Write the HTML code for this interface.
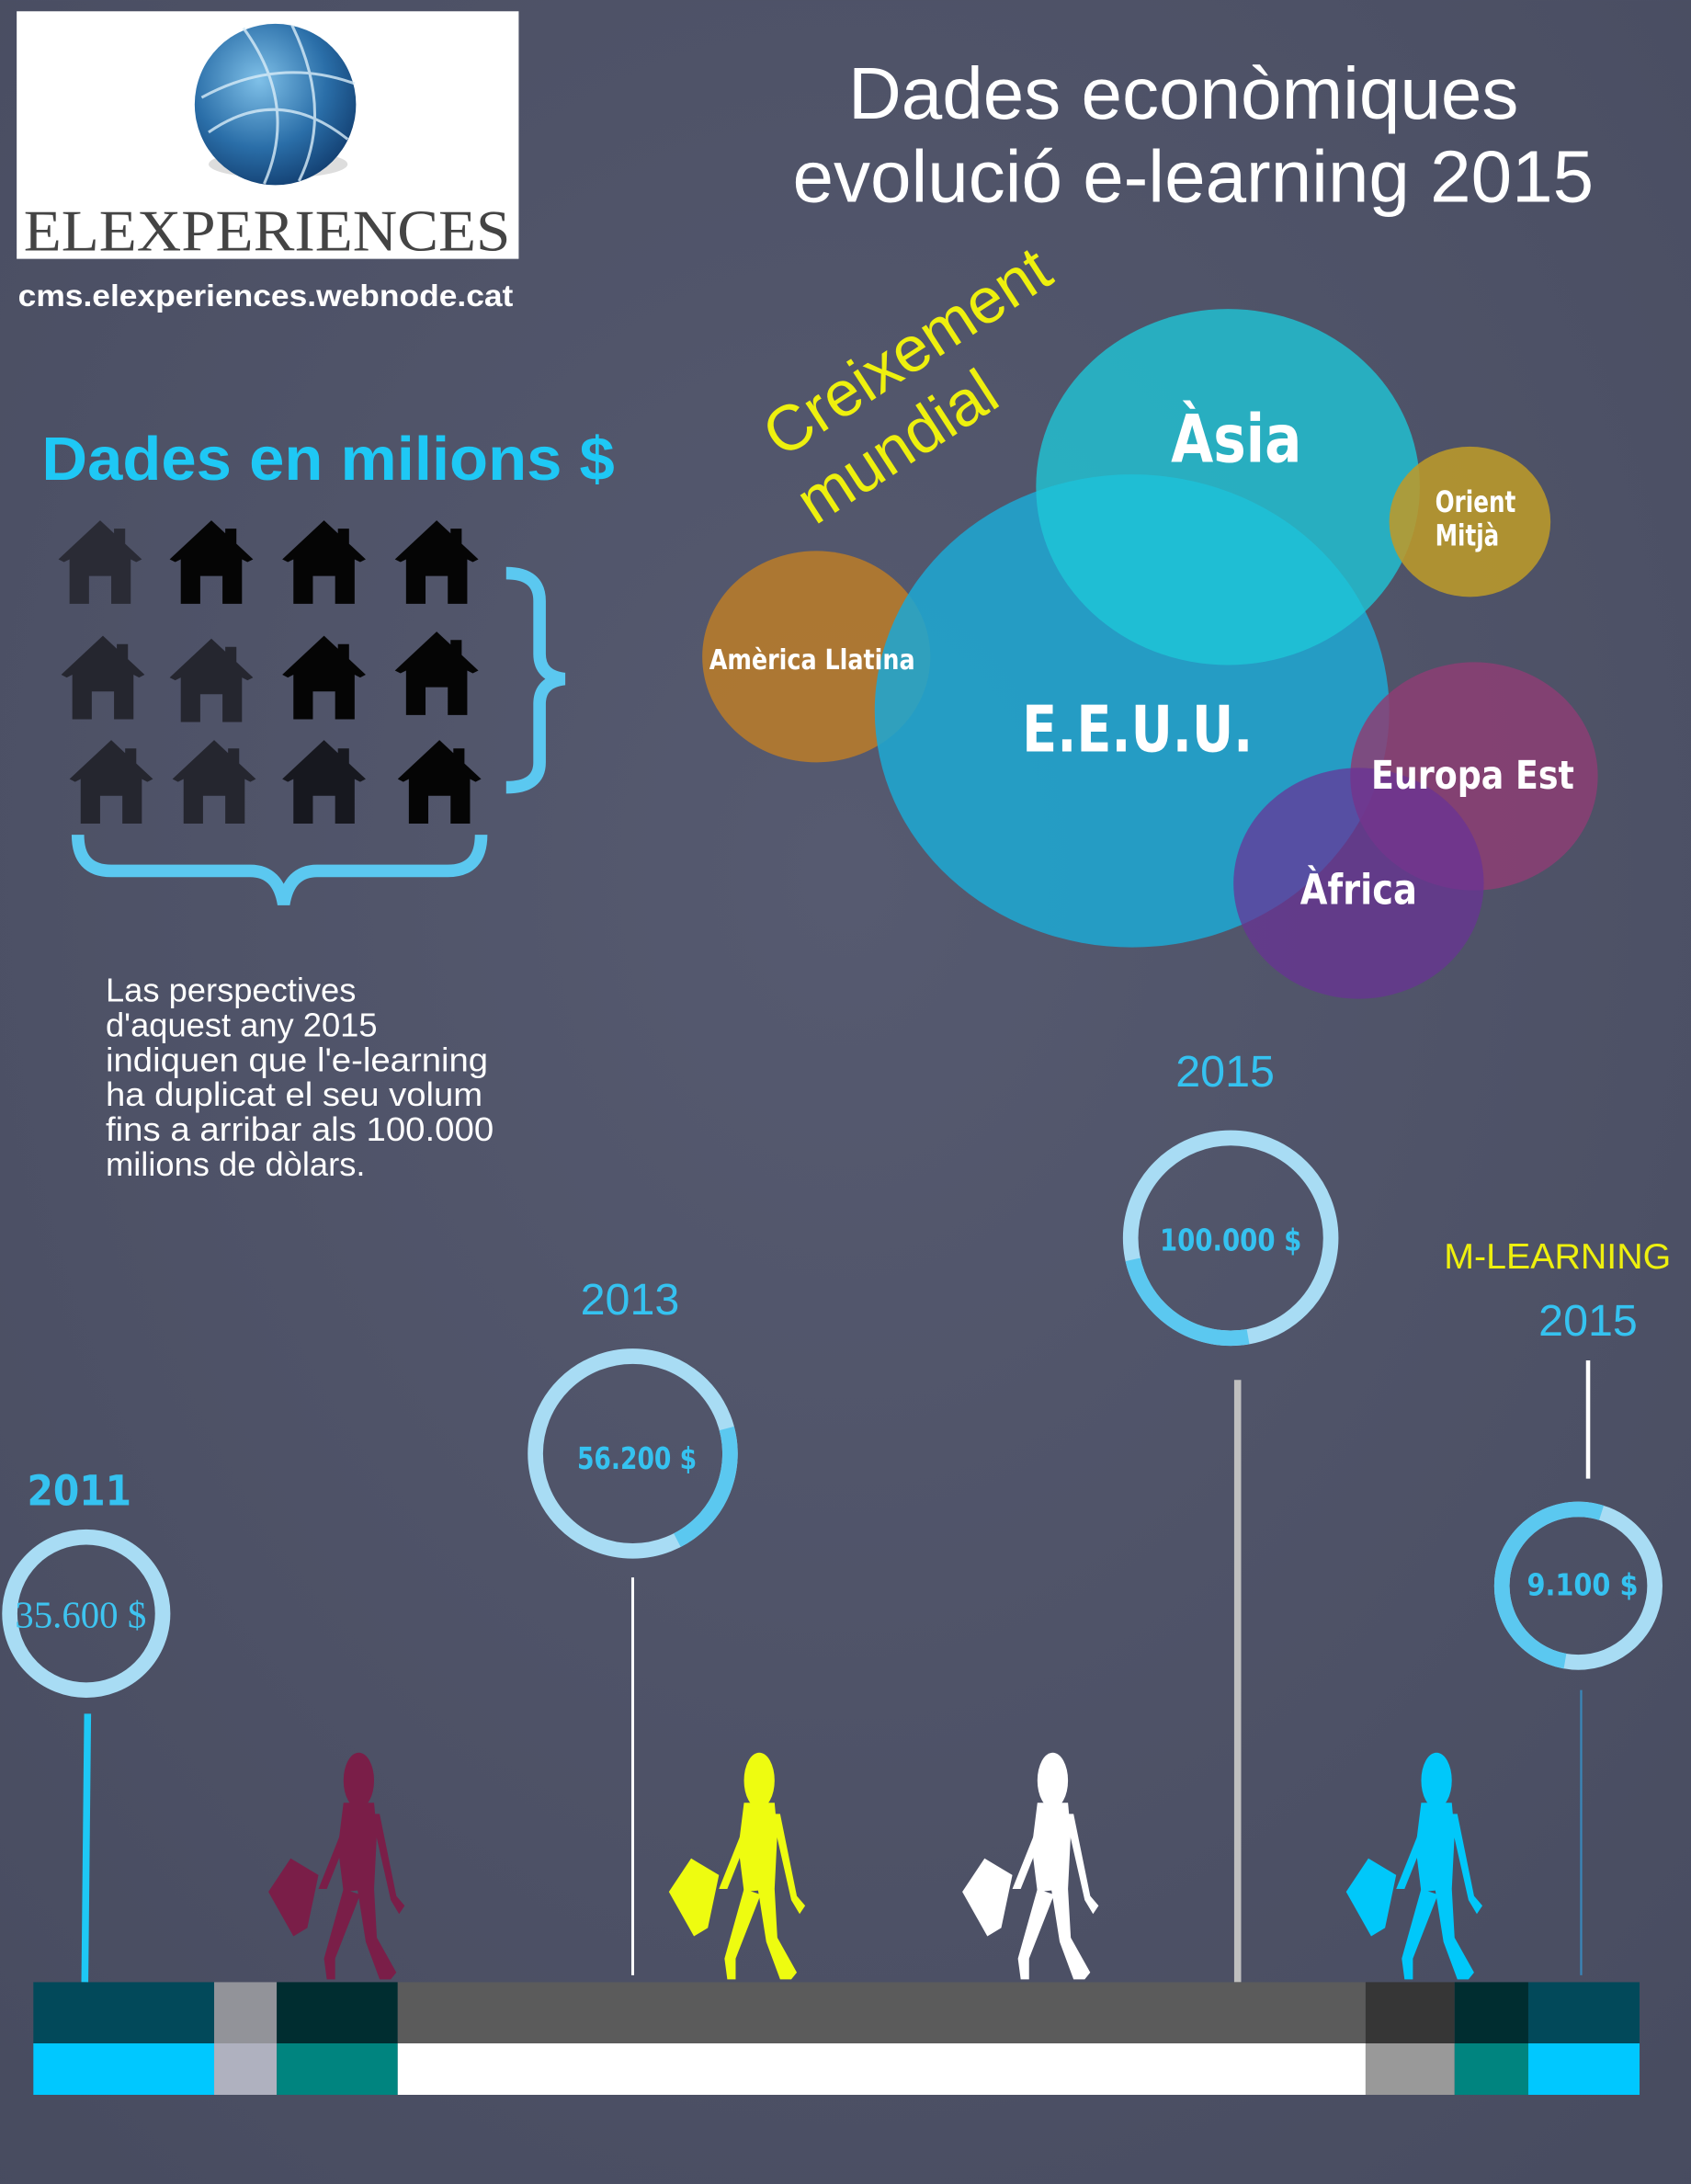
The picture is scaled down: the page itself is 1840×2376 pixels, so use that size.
<!DOCTYPE html>
<html><head><meta charset="utf-8">
<style>html,body{margin:0;padding:0;background:#4d5166;}svg{display:block}</style></head>
<body>
<svg width="1840" height="2376" viewBox="0 0 1216 1570" xmlns="http://www.w3.org/2000/svg" font-family="Liberation Sans, DejaVu Sans, sans-serif">
<defs>
<radialGradient id="bg" cx="0.5" cy="0.4" r="0.8"><stop offset="0" stop-color="#565a70"/><stop offset="1" stop-color="#474b5f"/></radialGradient>
<radialGradient id="globe" cx="0.4" cy="0.35" r="0.7"><stop offset="0" stop-color="#7fc0e8"/><stop offset="0.6" stop-color="#2a6ea8"/><stop offset="1" stop-color="#123e70"/></radialGradient>
<g id="walker">
<ellipse cx="73" cy="22" rx="11" ry="20"/>
<polygon points="62,38 84,38 86,60 84,100 62,102 58,70"/>
<polygon points="62,100 74,104 56,150 56,165 50,165 48,150"/>
<polygon points="72,100 84,100 86,135 100,160 96,165 88,165 78,138"/>
<polygon points="82,46 88,46 100,105 106,112 102,118 96,108"/>
<polygon points="8,102 24,78 44,90 36,128 26,134"/>
<polygon points="60,60 66,60 50,100 44,100"/>
</g>
<path id="house" d="M0,30 L30,2 L60,30 L56,32 L52,30 L52,62 L38,62 L38,42 L22,42 L22,62 L8,62 L8,30 L4,32Z M40,8 L48,8 L48,20 L40,14Z"/>
</defs>
<rect width="1216" height="1570" fill="url(#bg)"/>
<!-- logo -->
<rect x="12" y="8" width="361" height="178" fill="#fff"/>
<ellipse cx="200" cy="118" rx="50" ry="10" fill="#ddd"/>
<circle cx="198" cy="75" r="58" fill="url(#globe)"/>
<g stroke="#d8ecf8" stroke-width="2" fill="none" opacity="0.8">
<path d="M145,70 Q200,40 255,60"/><path d="M150,95 Q200,60 250,100"/><path d="M175,20 Q215,75 190,132"/><path d="M210,18 Q240,80 215,130"/>
</g>
<text x="192" y="180" font-family="Liberation Serif, serif" font-size="42" fill="#444" text-anchor="middle" textLength="350" lengthAdjust="spacingAndGlyphs">ELEXPERIENCES</text>
<text x="13" y="220" font-size="22" font-weight="bold" fill="#fff" textLength="356" lengthAdjust="spacingAndGlyphs">cms.elexperiences.webnode.cat</text>
<!-- title -->
<text x="851" y="85" font-size="53" fill="#fff" text-anchor="middle" textLength="482" lengthAdjust="spacingAndGlyphs">Dades econòmiques</text>
<text x="858" y="145" font-size="53" fill="#fff" text-anchor="middle" textLength="576" lengthAdjust="spacingAndGlyphs">evolució e-learning 2015</text>
<text x="30" y="345" font-size="44" font-weight="bold" fill="#1ec8f5" textLength="412" lengthAdjust="spacingAndGlyphs">Dades en milions $</text>
<!-- houses -->
<g fill="#2a2b35"><use href="#house" transform="translate(42,372)"/></g>
<g fill="#050505">
<use href="#house" transform="translate(122,372)"/>
<use href="#house" transform="translate(203,372)"/>
<use href="#house" transform="translate(284,372)"/>
<use href="#house" transform="translate(203,455)"/>
<use href="#house" transform="translate(284,452)"/>
<use href="#house" transform="translate(286,530)"/></g>
<g fill="#25262f">
<use href="#house" transform="translate(44,455)"/>
<use href="#house" transform="translate(122,457)"/>
<use href="#house" transform="translate(50,530)"/>
<use href="#house" transform="translate(124,530)"/></g>
<g fill="#17181f"><use href="#house" transform="translate(203,530)"/></g>
<!-- braces -->
<path d="M364,412 Q388,412 388,432 L388,470 Q388,486 406,488 Q388,490 388,506 L388,548 Q388,566 364,566" fill="none" stroke="#5bc8f0" stroke-width="9"/>
<path d="M56,600 Q56,626 80,626 L180,626 Q200,626 204,650 Q208,626 228,626 L322,626 Q346,626 346,600" fill="none" stroke="#5bc8f0" stroke-width="9"/>
<g font-size="24" fill="#fff">
<text x="76" y="720">Las perspectives</text>
<text x="76" y="745">d'aquest any 2015</text>
<text x="76" y="770" textLength="275" lengthAdjust="spacingAndGlyphs">indiquen que l'e-learning</text>
<text x="76" y="795" textLength="271" lengthAdjust="spacingAndGlyphs">ha duplicat el seu volum</text>
<text x="76" y="820" textLength="279" lengthAdjust="spacingAndGlyphs">fins a arribar als 100.000</text>
<text x="76" y="845">milions de dòlars.</text>
</g>
<!-- bubbles -->
<text transform="translate(562,330) rotate(-33)" font-size="46" fill="#eef00e">Creixement</text>
<text transform="translate(586,378) rotate(-33)" font-size="46" fill="#eef00e">mundial</text>
<ellipse cx="587" cy="472" rx="82" ry="76" fill="#b47a2e" opacity="0.92"/>
<ellipse cx="814" cy="511" rx="185" ry="170" fill="#1fa6d0" opacity="0.88"/>
<ellipse cx="883" cy="350" rx="138" ry="128" fill="#1ec8d8" opacity="0.78"/>
<ellipse cx="1057" cy="375" rx="58" ry="54" fill="#bc9a2a" opacity="0.88"/>
<ellipse cx="1060" cy="558" rx="89" ry="82" fill="#8c3e74" opacity="0.85"/>
<ellipse cx="977" cy="635" rx="90" ry="83" fill="#6a3296" opacity="0.72"/>
<g fill="#fff" font-weight="bold" font-family="DejaVu Sans Condensed, Liberation Sans Narrow, sans-serif">
<text x="889" y="332" font-size="48" text-anchor="middle" textLength="94" lengthAdjust="spacingAndGlyphs">Àsia</text>
<text x="818" y="540" font-size="46" text-anchor="middle" textLength="166" lengthAdjust="spacingAndGlyphs">E.E.U.U.</text>
<text x="584" y="481" font-size="20" text-anchor="middle" textLength="148" lengthAdjust="spacingAndGlyphs">Amèrica Llatina</text>
<text x="1032" y="368" font-size="21" textLength="58" lengthAdjust="spacingAndGlyphs">Orient</text>
<text x="1032" y="392" font-size="21" textLength="46" lengthAdjust="spacingAndGlyphs">Mitjà</text>
<text x="1059" y="567" font-size="28" text-anchor="middle" textLength="146" lengthAdjust="spacingAndGlyphs">Europa Est</text>
<text x="977" y="650" font-size="30" text-anchor="middle" textLength="84" lengthAdjust="spacingAndGlyphs">Àfrica</text>
</g>
<!-- year labels -->
<g fill="#35c2f0" font-size="32">
<text x="881" y="781" text-anchor="middle">2015</text>
<text x="453" y="945" text-anchor="middle">2013</text>
<text x="1142" y="960" text-anchor="middle">2015</text>
</g>
<text x="57" y="1082" fill="#35c2f0" font-size="30" font-weight="bold" text-anchor="middle" font-family="DejaVu Sans Condensed, sans-serif">2011</text>
<text x="1120" y="912" fill="#eef00e" font-size="26" text-anchor="middle">M-LEARNING</text>
<!-- lines -->
<line x1="63" y1="1232" x2="61" y2="1425" stroke="#1ec8f5" stroke-width="5"/>
<line x1="455" y1="1134" x2="455" y2="1420" stroke="#fff" stroke-width="2"/>
<line x1="890" y1="992" x2="890" y2="1425" stroke="#bfbfbf" stroke-width="5"/>
<line x1="1142" y1="978" x2="1142" y2="1063" stroke="#fff" stroke-width="3"/>
<line x1="1137" y1="1215" x2="1137" y2="1420" stroke="#3a86b8" stroke-width="1.5"/>
<!-- donuts -->
<g fill="none" stroke-width="11">
<circle cx="62" cy="1160" r="55" stroke="#a8dcf4"/>
<circle cx="455" cy="1045" r="70" stroke="#a8dcf4"/>
<circle cx="455" cy="1045" r="70" stroke="#5bc8f0" stroke-dasharray="95 400" transform="rotate(-15 455 1045)"/>
<circle cx="885" cy="890" r="72" stroke="#a8dcf4"/>
<circle cx="885" cy="890" r="72" stroke="#5bc8f0" stroke-dasharray="110 400" transform="rotate(80 885 890)"/>
<circle cx="1135" cy="1140" r="55" stroke="#a8dcf4"/>
<circle cx="1135" cy="1140" r="55" stroke="#5bc8f0" stroke-dasharray="180 400" transform="rotate(100 1135 1140)"/>
</g>
<text x="58" y="1170" fill="#3ec4f0" font-size="27" font-family="Liberation Serif, serif" text-anchor="middle">35.600 $</text>
<g fill="#35c2f0" font-weight="bold" font-family="DejaVu Sans Condensed, sans-serif" text-anchor="middle">
<text x="458" y="1056" font-size="22" textLength="86" lengthAdjust="spacingAndGlyphs">56.200 $</text>
<text x="885" y="899" font-size="22" textLength="102" lengthAdjust="spacingAndGlyphs">100.000 $</text>
<text x="1138" y="1147" font-size="22" textLength="80" lengthAdjust="spacingAndGlyphs">9.100 $</text>
</g>
<!-- walkers -->
<use href="#walker" transform="translate(185,1258)" fill="#7a1e48"/>
<use href="#walker" transform="translate(473,1258)" fill="#eefc10"/>
<use href="#walker" transform="translate(684,1258)" fill="#ffffff"/>
<use href="#walker" transform="translate(960,1258)" fill="#00c8fa"/>
<!-- bar -->
<rect x="24" y="1425" width="130" height="44" fill="#02495a"/><rect x="24" y="1469" width="130" height="37" fill="#00c8ff"/>
<rect x="154" y="1425" width="45" height="44" fill="#929399"/><rect x="154" y="1469" width="45" height="37" fill="#afb1bf"/>
<rect x="199" y="1425" width="87" height="44" fill="#002d30"/><rect x="199" y="1469" width="87" height="37" fill="#00847f"/>
<rect x="286" y="1425" width="696" height="44" fill="#5b5b5b"/><rect x="286" y="1469" width="696" height="37" fill="#ffffff"/>
<rect x="982" y="1425" width="64" height="44" fill="#363636"/><rect x="982" y="1469" width="64" height="37" fill="#999999"/>
<rect x="1046" y="1425" width="53" height="44" fill="#002d30"/><rect x="1046" y="1469" width="53" height="37" fill="#00847f"/>
<rect x="1099" y="1425" width="80" height="44" fill="#02495a"/><rect x="1099" y="1469" width="80" height="37" fill="#00c8ff"/>
</svg>
</body></html>
